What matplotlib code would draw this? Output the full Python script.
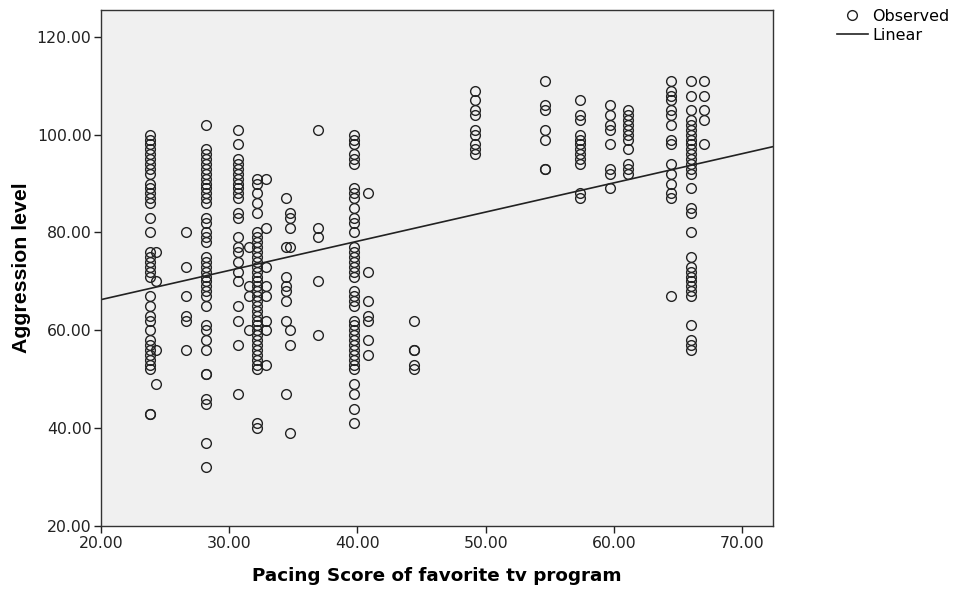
import numpy as np
import matplotlib.pyplot as plt

plt.rcParams['font.family'] = ['DejaVu Sans']

# pacing score levels and the aggression scores observed at each level
pacing_levels = [23.8, 24.3, 26.6, 28.2, 30.7, 31.5, 32.2, 32.9, 34.4, 34.7,
                 36.9, 39.7, 40.8, 44.4, 49.2, 54.6, 57.4, 59.7, 61.1, 64.5,
                 66.0, 67.0]
aggression = [
    [100, 99, 98, 97, 96, 95, 94, 93, 92, 90, 89, 88, 87, 86, 83, 80, 76, 75,
     74, 73, 72, 71, 67, 65, 63, 62, 60, 58, 57, 56, 55, 54, 53, 52, 43, 43],
    [76, 70, 56, 49],
    [80, 73, 67, 63, 62, 56],
    [102, 97, 96, 95, 94, 93, 92, 91, 90, 89, 88, 87, 86, 83, 82, 80, 79, 78,
     75, 74, 73, 72, 71, 70, 69, 68, 67, 65, 61, 60, 58, 56, 51, 51, 46, 45,
     37, 32],
    [101, 98, 95, 94, 93, 92, 91, 90, 89, 88, 87, 84, 83, 79, 77, 76, 74, 72,
     70, 65, 62, 57, 47],
    [77, 69, 67, 60],
    [91, 90, 88, 86, 84, 80, 79, 78, 77, 76, 75, 74, 73, 72, 71, 70, 69, 68,
     67, 66, 65, 64, 63, 62, 61, 60, 59, 58, 57, 56, 55, 54, 53, 52, 41, 40],
    [91, 81, 73, 69, 67, 62, 60, 53],
    [87, 77, 71, 69, 68, 66, 62, 47],
    [84, 83, 81, 77, 60, 57, 39],
    [101, 81, 79, 70, 59],
    [100, 99, 98, 96, 95, 94, 89, 88, 87, 85, 83, 82, 80, 77, 76, 75, 74, 73,
     72, 71, 68, 67, 66, 65, 62, 61, 60, 59, 58, 57, 56, 55, 54, 53, 52, 49,
     47, 44, 41],
    [88, 72, 66, 63, 62, 58, 55],
    [62, 56, 56, 53, 52],
    [109, 107, 105, 104, 101, 100, 98, 97, 96],
    [111, 106, 105, 101, 99, 93, 93],
    [107, 104, 103, 100, 99, 98, 97, 96, 95, 94, 88, 87],
    [106, 104, 102, 101, 98, 93, 92, 89],
    [105, 104, 103, 102, 101, 100, 99, 97, 94, 93, 92],
    [111, 109, 108, 107, 105, 104, 102, 99, 98, 94, 92, 90, 88, 87, 67],
    [111, 108, 105, 103, 102, 101, 100, 99, 98, 97, 96, 95, 94, 93, 92, 89,
     85, 84, 80, 75, 73, 72, 71, 70, 69, 68, 67, 61, 58, 57, 56],
    [111, 108, 105, 103, 98],
]

x = np.repeat(pacing_levels, [len(a) for a in aggression])
y = np.concatenate(aggression)

fig = plt.figure(figsize=(9.54, 5.96), dpi=100)
ax = fig.add_axes([0.106, 0.1174, 0.704, 0.866])
ax.set_facecolor('#f0f0f0')

ax.plot(x, y, 'o', mfc='none', mec='#222222', ms=7, mew=1.0, label='Observed')

slope, intercept = np.polyfit(x, y, 1)
xl = np.array([20, 72.4])
ax.plot(xl, intercept + slope * xl, color='#222222', lw=1.2, label='Linear')

ax.set_xlim(20, 72.4)
ax.set_ylim(20, 125.5)
ax.set_xticks(np.arange(20, 71, 10))
ax.set_yticks(np.arange(20, 121, 20))
ax.set_xticklabels([f'{v:.2f}' for v in np.arange(20, 71, 10)])
ax.set_yticklabels([f'{v:.2f}' for v in np.arange(20, 121, 20)])
ax.tick_params(labelsize=11.3, length=5, width=1, direction='out',
               colors='#222222', pad=2)
for s in ax.spines.values():
    s.set_color('#333333')
    s.set_linewidth(1)

ax.set_xlabel('Pacing Score of favorite tv program', fontsize=13.2,
              fontweight='bold', labelpad=12)
ax.set_ylabel('Aggression level', fontsize=15.3, fontweight='bold',
              family='Liberation Sans', labelpad=4)

fig.legend(loc='upper left', bbox_to_anchor=(0.877, 0.985), frameon=False,
           fontsize=11.5, handlelength=1.95, handletextpad=0.3,
           labelspacing=0.25, borderaxespad=0, borderpad=0)

fig.savefig('out.png', dpi=100)
